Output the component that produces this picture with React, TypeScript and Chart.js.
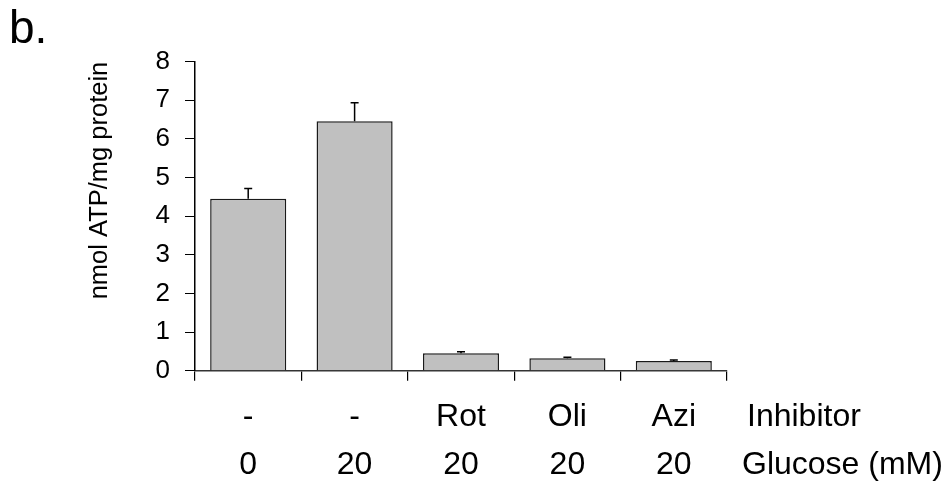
import React, { useEffect, useRef } from "react";
import { Chart, registerables } from "chart.js";

Chart.register(...registerables);

// ---- data ----
const inhibitors = ["-", "-", "Rot", "Oli", "Azi"];
const glucose = ["0", "20", "20", "20", "20"];
const atpValues = [4.45, 6.46, 0.45, 0.32, 0.25];
const atpErrors = [0.27, 0.48, 0.04, 0.03, 0.03];
const yMin = 0;
const yMax = 8;
const yStep = 1;
const rowTitles = ["Inhibitor", "Glucose (mM)"];
const yTitle = "nmol ATP/mg protein";
const panelLabel = "b.";

const FONT = "'Liberation Sans', Arial, Helvetica, sans-serif";

export default function App() {
  const canvasRef = useRef<HTMLCanvasElement | null>(null);

  useEffect(() => {
    const canvas = canvasRef.current;
    if (!canvas) return;

    const errorBars = {
      id: "errorBars",
      afterDatasetsDraw(chart: any) {
        const ctx = chart.ctx;
        const meta = chart.getDatasetMeta(0);
        const ys = chart.scales.y;
        ctx.save();
        ctx.strokeStyle = "#000";
        ctx.lineWidth = 1.5;
        meta.data.forEach((bar: any, i: number) => {
          const x = bar.x;
          const yBar = ys.getPixelForValue(atpValues[i]);
          const yTop = ys.getPixelForValue(atpValues[i] + atpErrors[i]);
          ctx.beginPath();
          ctx.moveTo(x, yBar);
          ctx.lineTo(x, yTop);
          ctx.moveTo(x - 4, yTop);
          ctx.lineTo(x + 4, yTop);
          ctx.stroke();
        });
        ctx.restore();
      },
    };

    const extraText = {
      id: "extraText",
      afterDraw(chart: any) {
        const ctx = chart.ctx;
        const xs = chart.scales.x;
        const area = chart.chartArea;
        ctx.save();
        ctx.fillStyle = "#000";
        // row titles beside the category labels
        ctx.font = `32px ${FONT}`;
        ctx.textAlign = "left";
        ctx.textBaseline = "middle";
        const y0 = xs.top + 10 + 12 + 24;
        ctx.fillText(rowTitles[0], area.right + 20, y0);
        ctx.fillText(rowTitles[1], area.right + 15, y0 + 48);
        // panel label
        ctx.font = `46px ${FONT}`;
        ctx.textBaseline = "alphabetic";
        ctx.fillText(panelLabel, 9, 43);
        ctx.restore();
      },
    };

    const chart = new Chart(canvas, {
      type: "bar",
      data: {
        labels: inhibitors.map((inh, i) => [inh, glucose[i]]),
        datasets: [
          {
            data: atpValues,
            backgroundColor: "#c0c0c0",
            borderColor: "#1a1a1a",
            borderWidth: 1.5,
            barPercentage: 0.715,
            categoryPercentage: 1,
          },
        ],
      },
      options: {
        animation: false,
        responsive: false,
        maintainAspectRatio: false,
        layout: { padding: { top: 61.7, right: 224, bottom: 0, left: 0 } },
        plugins: {
          legend: { display: false },
          tooltip: { enabled: false },
        },
        scales: {
          x: {
            offset: true,
            afterFit: (scale: any) => {
              scale.height = 119.3;
            },
            grid: {
              offset: true,
              drawOnChartArea: false,
              drawTicks: true,
              tickLength: 10,
              color: "#000",
              lineWidth: 1.2,
            },
            border: { display: true, color: "#333", width: 1.5 },
            ticks: {
              autoSkip: false,
              maxRotation: 0,
              minRotation: 0,
              padding: 12,
              color: "#000",
              font: { family: FONT, size: 32, lineHeight: 1.5 },
            },
          },
          y: {
            min: yMin,
            max: yMax,
            afterFit: (scale: any) => {
              scale.width = 195;
            },
            grid: {
              drawOnChartArea: false,
              drawTicks: true,
              tickLength: 10,
              color: "#000",
              lineWidth: 1,
            },
            border: { display: true, color: "#000", width: 1.5 },
            ticks: {
              stepSize: yStep,
              padding: 15,
              color: "#000",
              font: { family: FONT, size: 26 },
            },
            title: {
              display: true,
              text: yTitle,
              align: "end",
              color: "#000",
              font: { family: FONT, size: 25.5 },
              padding: { top: 85, bottom: 0 },
            },
          },
        },
      },
      plugins: [errorBars, extraText],
    } as any);

    return () => chart.destroy();
  }, []);

  return (
    <div style={{ position: "fixed", left: 0, top: 0, width: 951, height: 490, background: "#fff" }}>
      <canvas ref={canvasRef} width={951} height={490} style={{ display: "block", width: 951, height: 490 }} />
    </div>
  );
}
